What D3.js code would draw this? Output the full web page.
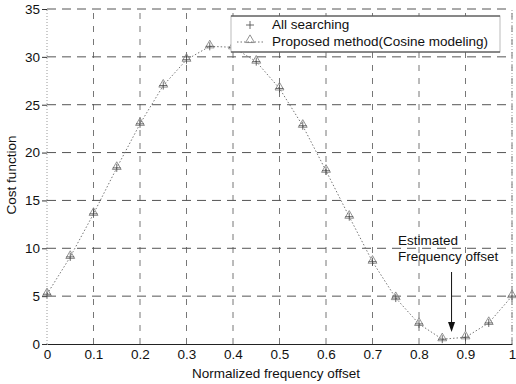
<!DOCTYPE html>
<html><head><meta charset="utf-8">
<script src="https://cdn.jsdelivr.net/npm/d3@7"></script>
<style>body{margin:0;background:#fff}svg{display:block}text{font-family:"Liberation Sans",Arial,sans-serif}</style>
</head><body><svg id="c" width="516" height="384"></svg>
<script>
const xs = [0,0.05,0.1,0.15,0.2,0.25,0.3,0.35,0.4,0.45,0.5,0.55,0.6,0.65,0.7,0.75,0.8,0.85,0.9,0.95,1.0];
const allSearching = [5.2,9.1,13.6,18.4,23.0,27.0,29.7,31.1,31.0,29.5,26.7,22.8,18.1,13.3,8.6,4.8,2.1,0.5,0.7,2.2,5.0];
const proposed = [5.2,9.1,13.6,18.4,23.0,27.0,29.7,31.1,31.0,29.5,26.7,22.8,18.1,13.3,8.6,4.8,2.1,0.5,0.7,2.2,5.0];
const xTicks = [0,0.1,0.2,0.3,0.4,0.5,0.6,0.7,0.8,0.9,1];
const yTicks = [0,5,10,15,20,25,30,35];
const estimated = 0.87;
const FS = 13.5;

const svg = d3.select("#c");
const x = d3.scaleLinear().domain([0,1]).range([47,512]);
const y = d3.scaleLinear().domain([0,35]).range([344,9]);

// grid
const g = svg.append("g");
g.selectAll("line.v").data(xTicks.slice(1)).join("line")
  .attr("x1",d=>x(d)).attr("x2",d=>x(d)).attr("y1",y(0)).attr("y2",y(35))
  .attr("stroke","#777").attr("stroke-width",1).attr("stroke-dasharray","6,7");
g.selectAll("line.h").data(yTicks.slice(1)).join("line")
  .attr("x1",x(0)).attr("x2",x(1)).attr("y1",d=>y(d)).attr("y2",d=>y(d))
  .attr("stroke","#555").attr("stroke-width",1).attr("stroke-dasharray","9,6");
svg.append("line").attr("x1",x(0)).attr("x2",x(0)).attr("y1",y(0)).attr("y2",y(35))
  .attr("stroke","#999").attr("stroke-dasharray","1,2");
svg.append("line").attr("x1",x(1)).attr("x2",x(1)).attr("y1",y(0)).attr("y2",y(35))
  .attr("stroke","#999").attr("stroke-dasharray","1,2");

// axes
const xAxis = d3.axisBottom(x).tickValues(xTicks).tickFormat(d=>d===0||d===1?d3.format("d")(d):d3.format(".1f")(d)).tickSize(0).tickPadding(5);
const ax = svg.append("g").attr("transform",`translate(0,${y(0)})`).call(xAxis);
ax.select(".domain").attr("stroke","#222").attr("stroke-width",1.2);
ax.selectAll("text").attr("font-size",FS).attr("fill","#111");
const yAxis = d3.axisLeft(y).tickValues(yTicks).tickSize(5).tickPadding(2);
const ay = svg.append("g").attr("transform",`translate(${x(0)},0)`).call(yAxis);
ay.select(".domain").remove();
ay.selectAll("line").attr("stroke","#333");
ay.selectAll("text").attr("font-size",FS).attr("fill","#111");

svg.append("text").attr("x",276).attr("y",378).attr("text-anchor","middle").attr("font-size",FS).attr("fill","#111").text("Normalized frequency offset");
svg.append("text").attr("transform","translate(16,175) rotate(-90)").attr("text-anchor","middle").attr("font-size",FS).attr("fill","#111").text("Cost function");

// line
const line = d3.line().x((d,i)=>x(xs[i])).y(d=>y(d));
svg.append("path").datum(proposed).attr("d",line).attr("fill","none").attr("stroke","#777").attr("stroke-width",1).attr("stroke-dasharray","1.5,2");

// triangles
const tri = d3.symbol().type(d3.symbolTriangle).size(34);
svg.selectAll("path.tri").data(proposed).join("path")
  .attr("d",tri).attr("transform",(d,i)=>`translate(${x(xs[i])},${y(d)-1})`)
  .attr("fill","none").attr("stroke","#777").attr("stroke-width",0.8);
// plus
svg.selectAll("g.plus").data(allSearching).join("g")
  .attr("transform",(d,i)=>`translate(${x(xs[i])},${y(d)})`)
  .each(function(){
    const s=d3.select(this);
    s.append("line").attr("x1",-4).attr("x2",4).attr("stroke","#444").attr("stroke-width",0.8);
    s.append("line").attr("y1",-4).attr("y2",4).attr("stroke","#444").attr("stroke-width",0.8);
  });

// legend
const lg = svg.append("g");
lg.append("rect").attr("x",231).attr("y",16).attr("width",269).attr("height",36).attr("fill","#fff").attr("stroke","#bbb").attr("stroke-width",1);
lg.append("line").attr("x1",231).attr("x2",500).attr("y1",16).attr("y2",16).attr("stroke","#333");
lg.append("line").attr("x1",231).attr("x2",500).attr("y1",52).attr("y2",52).attr("stroke","#333");
lg.append("line").attr("x1",246).attr("x2",254).attr("y1",25).attr("y2",25).attr("stroke","#444").attr("stroke-width",0.8);
lg.append("line").attr("x1",250).attr("x2",250).attr("y1",21).attr("y2",29).attr("stroke","#444").attr("stroke-width",0.8);
lg.append("line").attr("x1",237).attr("x2",264).attr("y1",42).attr("y2",42).attr("stroke","#777").attr("stroke-dasharray","1.5,2");
lg.append("path").attr("d",tri).attr("transform","translate(250,40)").attr("fill","none").attr("stroke","#777").attr("stroke-width",0.8);
lg.append("text").attr("x",272).attr("y",29).attr("font-size",FS).attr("fill","#111").text("All searching");
lg.append("text").attr("x",272).attr("y",46).attr("font-size",FS).attr("fill","#111").text("Proposed method(Cosine modeling)");

// annotation
svg.append("text").attr("x",398).attr("y",245).attr("font-size",FS).attr("fill","#111").text("Estimated");
svg.append("text").attr("x",398).attr("y",261).attr("font-size",FS).attr("fill","#111").text("Frequency offset");
svg.append("line").attr("x1",x(estimated)).attr("x2",x(estimated)).attr("y1",272).attr("y2",325).attr("stroke","#111").attr("stroke-width",1);
svg.append("path").attr("d",`M${x(estimated)-3.5},${322} L${x(estimated)+3.5},${322} L${x(estimated)},${332} Z`).attr("fill","#111");
</script></body></html>
